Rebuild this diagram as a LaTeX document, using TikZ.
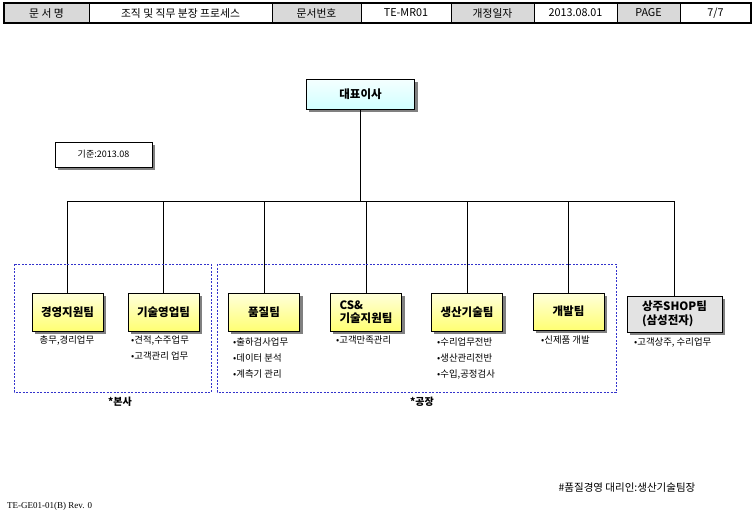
\documentclass[tikz,border=0pt]{standalone}
\usepackage{fontspec}
\setmainfont{Noto Sans CJK KR}
\newfontfamily\revfont{Liberation Serif}
\usetikzlibrary{positioning,backgrounds}
\definecolor{hdgray}{HTML}{D9D9D9}
\definecolor{grpblue}{HTML}{3333CC}
\definecolor{shadegray}{HTML}{808080}

\begin{document}
\begin{tikzpicture}[
        x=1pt, y=-1pt,
        team/.style={draw, line width=0.8pt, minimum width=71pt, minimum height=38pt, inner sep=1pt,
            top color=yellow!14, bottom color=yellow!55, align=left,
            font=\fontsize{11.5}{13.5}\selectfont\bfseries},
        ceobox/.style={team, minimum width=108pt, minimum height=30pt, top color=cyan!4, bottom color=cyan!18},
        shopbox/.style={team, minimum width=95pt, minimum height=36pt, top color=black!11, bottom color=black!11},
        desc/.style={inner sep=0pt, align=left, anchor=north west, font=\fontsize{9.4}{16}\selectfont},
        group/.style={draw=grpblue, line width=0.7pt, dash pattern=on 2pt off 1.5pt},
        grplabel/.style={inner sep=0pt, font=\fontsize{10}{12}\selectfont\bfseries},
        link/.style={draw, line width=1pt},
    ]
    \useasboundingbox (0,0) rectangle (755,517);

    % header row
    \foreach \i/\xa/\xb/\txt/\col in {1/4/89/{문 서 명}/hdgray, 2/89/272/{조직 및 직무 분장 프로세스}/white,
            3/272/361/문서번호/hdgray, 4/361/451/TE-MR01/white, 5/451/534/개정일자/hdgray,
            6/534/617/2013.08.01/white, 7/617/680/PAGE/hdgray, 8/680/751/7\slash 7/white}
        \node[draw, fill=\col, line width=0.6pt, minimum width={\xb pt-\xa pt}, minimum height=20pt,
            inner sep=0pt, font=\fontsize{10.8}{12}\selectfont] (hd\i) at ({(\xa+\xb)/2},13) {\txt};
    \draw[line width=1.6pt] (4,3) rectangle (751,23);

    % org chart
    \node[ceobox] (ceo) at (360.5,94) {대표이사};
    \node[draw, fill=white, line width=0.6pt, minimum width=97pt, minimum height=25pt,
        font=\fontsize{9}{11}\selectfont] (base) at (103.5,154.5) {기준:2013.08};

    \node[team] (mgmt) at (67.5,312) {경영지원팀};
    \node[team] (sales) at (163.5,312) {기술영업팀};
    \node[team] (qa) at (264,312) {품질팀};
    \node[team] (cs) at (366,312) {CS\&\\기술지원팀};
    \node[team] (prod) at (467,312) {생산기술팀};
    \node[team, minimum height=37pt] (dev) at (568.5,311.5) {개발팀};
    \node[shopbox] (shop) at (674.5,314) {상주SHOP팀\\(삼성전자)};

    % shadows
    \begin{scope}[on background layer]
        \foreach \t in {ceo,base,mgmt,sales,qa,cs,prod,dev,shop}
            \fill[shadegray] ([shift={(3,3)}]\t.south west) rectangle ([shift={(3,3)}]\t.north east);
    \end{scope}

    \coordinate (bus) at (360.5,201);
    \draw[link] (ceo.south) -- (bus);
    \foreach \t in {mgmt,sales,qa,cs,prod,dev,shop}
        \draw[link] (\t.north) |- (bus);

    % duties
    \node[desc, anchor=north] (mgmt-d) at (67,336) {총무,경리업무};
    \node[desc] (sales-d) at (131,336) {•견적,수주업무\\•고객관리 업무};
    \node[desc] (qa-d) at (233,337.5) {•출하검사업무\\•데이터 분석\\•계측기 관리};
    \node[desc] (cs-d) at (336,336) {•고객만족관리};
    \node[desc] (prod-d) at (437,337.5) {•수리업무전반\\•생산관리전반\\•수입,공정검사};
    \node[desc] (dev-d) at (541,335.5) {•신제품 개발};
    \node[desc] (shop-d) at (634,337.5) {•고객상주, 수리업무};

    % groups
    \draw[group] (14,264) rectangle (211,392);
    \draw[group] (217,264) rectangle (616,392);
    \node[grplabel] (hq) at (120,402) {*본사};
    \node[grplabel] (plant) at (422,402) {*공장};

    % notes
    \node[inner sep=0pt, font=\fontsize{10.5}{12}\selectfont] (rep) at (627,488) {\#품질경영 대리인:생산기술팀장};
    \node[inner sep=0pt, anchor=west, font=\revfont\fontsize{9}{11}\selectfont] (rev) at (7,506) {TE-GE01-01(B) Rev. 0};
\end{tikzpicture}
\end{document}
